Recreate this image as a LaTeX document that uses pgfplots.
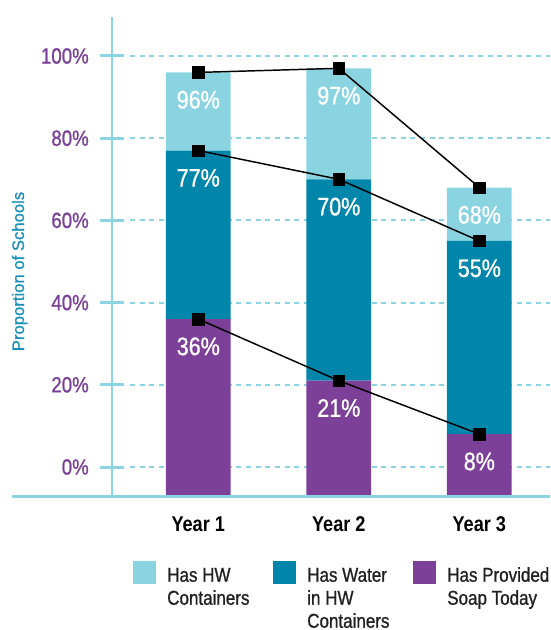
\documentclass[border=0pt]{standalone}
\usepackage{fontspec}
\setmainfont{Liberation Sans}[FakeStretch=0.85]
\newfontfamily\medfont{Liberation Sans}[FakeStretch=0.85, FakeBold=0.9]
\newfontfamily\labelfont{Liberation Sans}[FakeBold=0.9]
\usepackage{pgfplots}
\pgfplotsset{compat=1.18}

\definecolor{hwlight}{RGB}{138,212,226}
\definecolor{hwteal}{RGB}{0,134,171}
\definecolor{hwpurple}{RGB}{125,64,152}
\definecolor{axisblue}{RGB}{140,212,226}
\definecolor{tickpurple}{RGB}{122,64,152}
\definecolor{ylabelteal}{RGB}{26,143,184}
\definecolor{legendtext}{RGB}{35,31,32}

\pgfplotsset{
  schoolaxis/.style={
    at={(84pt,101.25pt)}, anchor=south west,
    scale only axis, width=328.5pt, height=359.25pt,
    xmin=0.386, xmax=3.503, ymin=-6.81, ymax=109.73,
    /pgf/number format/assume math mode=true,
  },
  valuelabel/.style={
    nodes near coords={\pgfmathprintnumber{\pgfplotspointmeta}\%},
    every node near coord/.append style={anchor=center, yshift=-20.5pt,
      text=white, font=\medfont\fontsize{19}{19}\selectfont},
  },
  trendline/.style={black, line width=1.1pt, mark=square*, mark size=4.3pt,
    mark options={solid, fill=black, draw=black, line width=0.4pt}},
}

\begin{document}
\begin{tikzpicture}
\useasboundingbox (0,0) rectangle (412.5pt,472.5pt);

% dashed gridlines behind the bars
\begin{axis}[schoolaxis, hide axis]
\pgfplotsinvokeforeach{0,20,40,60,80,100}{
  \draw[axisblue, line width=1.5pt, dash pattern=on 3.75pt off 3.5pt]
    ([xshift=13.5pt]axis cs:0.386,#1) -- (axis cs:3.503,#1);
}
\end{axis}

% stacked bars: soap, water in containers, containers
\begin{axis}[schoolaxis, name=main,
  ybar stacked, bar width=0.4605,
  axis line style={draw=none},
  xtick={1,2,3}, xticklabels={Year 1,Year 2,Year 3},
  xtick style={draw=none},
  ytick={0,20,40,60,80,100},
  yticklabel={\pgfmathprintnumber{\tick}\%},
  ytick style={draw=axisblue, line width=2.25pt},
  major tick length=17.25pt, tick align=center,
  xtick pos=bottom, ytick pos=left,
  yticklabel style={font=\medfont\fontsize{16.5}{16.5}\selectfont, text=tickpurple, anchor=east, xshift=-5.25pt},
  xticklabel style={font=\bfseries\fontsize{16}{16}\selectfont, text=black, anchor=base, yshift=-18.5pt},
]
\addplot[fill=hwpurple, draw=none] coordinates {(1,36) (2,21) (3,8)};
\addplot[fill=hwteal, draw=none] coordinates {(1,41) (2,49) (3,47)};
\addplot[fill=hwlight, draw=none] coordinates {(1,19) (2,27) (3,13)};
\end{axis}

% cumulative shares joined across years
\begin{axis}[schoolaxis, hide axis]
\addplot[ybar, bar width=0.4605, fill=hwpurple, draw=none] coordinates {(1,-6.81) (2,-6.81) (3,-6.81)};
\addplot[trendline, valuelabel] coordinates {(1,96) (2,97) (3,68)};
\addplot[trendline, valuelabel] coordinates {(1,77) (2,70) (3,55)};
\addplot[trendline, valuelabel] coordinates {(1,36) (2,21) (3,8)};
\end{axis}

% axis lines
\draw[axisblue, line width=1.7pt] (main.south west) -- ([yshift=-0.75pt]main.north west);
\draw[axisblue, line width=2.5pt] ([xshift=-75pt, yshift=-1.1pt]main.south west) -- ([yshift=-1.1pt]main.south east);

% y axis title
\node[rotate=90, anchor=base, text=ylabelteal, font=\labelfont\fontsize{12.5}{12.5}\selectfont, inner sep=0pt]
  at (18pt,268.9pt) {Proportion of Schools};

% legend
\begin{scope}[every node/.style={anchor=base west, inner sep=0pt, text=legendtext, font=\medfont\fontsize{15}{15}\selectfont}]
\fill[hwlight] (99.75pt,34.5pt) rectangle (117pt,51.75pt);
\fill[hwteal] (204.75pt,34.5pt) rectangle (222pt,51.75pt);
\fill[hwpurple] (309.75pt,34.5pt) rectangle (327pt,51.75pt);
\node at (125.25pt,36.2pt) {Has HW};
\node at (125.25pt,18.95pt) {Containers};
\node at (230.25pt,36.2pt) {Has Water};
\node at (230.25pt,18.95pt) {in HW};
\node at (230.25pt,1.7pt) {Containers};
\node at (335.25pt,36.2pt) {Has Provided};
\node at (335.25pt,18.95pt) {Soap Today};
\end{scope}
\end{tikzpicture}
\end{document}
